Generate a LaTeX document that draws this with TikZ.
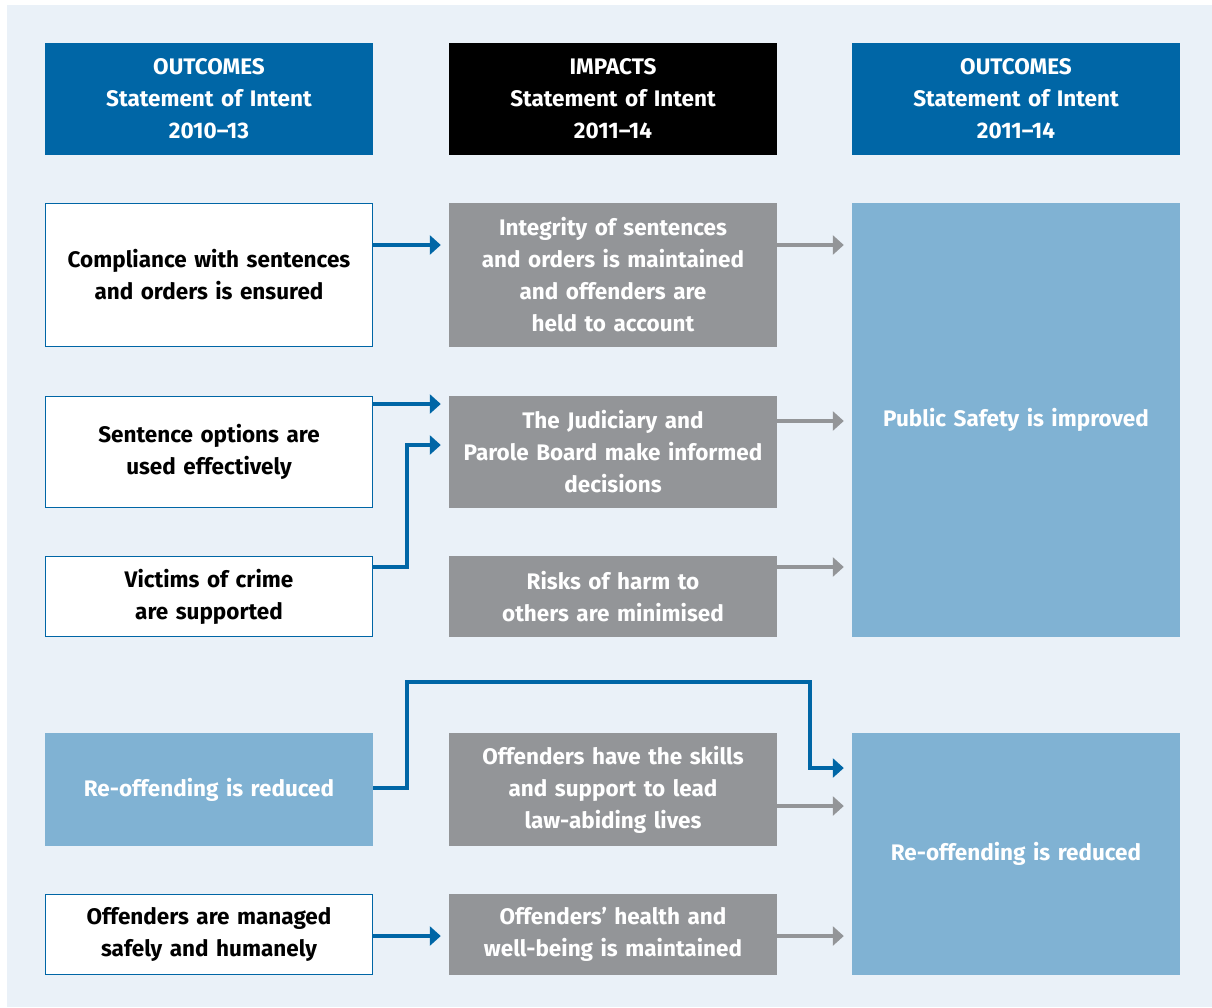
\documentclass[tikz,border=0pt]{standalone}
\usepackage{fontspec}
\setmainfont{Fira Sans}
\usetikzlibrary{arrows.meta,calc}
\definecolor{panel}{HTML}{EAF1F8}
\definecolor{dblue}{HTML}{0066A6}
\definecolor{lblue}{HTML}{80B2D3}
\definecolor{gbox}{HTML}{939598}
\tikzset{
  box/.style={minimum width=328pt, text width=326pt, align=center, inner sep=0pt,
    font=\fontsize{22.5}{32}\selectfont\bfseries},
  hdr/.style={box, text=white},
  wbox/.style={box, fill=white, draw=dblue, line width=1pt, text=black},
  gbx/.style={box, fill=gbox, text=white},
  bbx/.style={box, fill=lblue, text=white},
  barrow/.style={draw=dblue, line width=3.2pt, -{Triangle[length=11pt,width=19pt]}},
  garrow/.style={draw=gbox, line width=3.2pt, -{Triangle[length=11pt,width=19pt]}},
}
\begin{document}
\begin{tikzpicture}[x=1pt,y=-1pt]
\useasboundingbox (0,0) rectangle (1212,1007);
\fill[white] (0,0) rectangle (1212,1007);
\fill[panel] (7,5) rectangle (1212,1007);
% headers
\node[hdr, fill=dblue, minimum height=112pt] (h1) at (209,99) {OUTCOMES\\Statement of Intent\\2010--13};
\node[hdr, fill=black, minimum height=112pt] (h2) at (613,99) {IMPACTS\\Statement of Intent\\2011--14};
\node[hdr, fill=dblue, minimum height=112pt] (h3) at (1016,99) {OUTCOMES\\Statement of Intent\\2011--14};
% left column
\node[wbox, minimum width=327pt, minimum height=143pt] (l1) at (209,275) {Compliance with sentences\\and orders is ensured};
\node[wbox, minimum width=327pt, minimum height=111pt] (l2) at (209,452) {Sentence options are\\used effectively};
\node[wbox, minimum width=327pt, minimum height=80pt] (l3) at (209,596.5) {Victims of crime\\are supported};
\node[bbx, minimum height=113pt] (l4) at (209,789.5) {Re-offending is reduced};
\node[wbox, minimum width=327pt, minimum height=80pt] (l5) at (209,934.5) {Offenders are managed\\safely and humanely};
% middle column
\node[gbx, minimum height=144pt] (m1) at (613,275) {Integrity of sentences\\and orders is maintained\\and offenders are\\held to account};
\node[gbx, minimum height=112pt] (m2) at (613,452) {The Judiciary and\\Parole Board make informed\\decisions};
\node[gbx, minimum height=81pt] (m3) at (613,596.5) {Risks of harm to\\others are minimised};
\node[gbx, minimum height=113pt] (m4) at (613,789.5) {Offenders have the skills\\and support to lead\\law-abiding lives};
\node[gbx, minimum height=81pt] (m5) at (613,934.5) {Offenders' health and\\well-being is maintained};
% right column
\node[bbx, minimum height=434pt] (r1) at (1016,420) {Public Safety is improved};
\node[bbx, minimum height=242pt] (r2) at (1016,854) {Re-offending is reduced};
% blue arrows
\draw[barrow] (l1.east |- 0,245) -- ([xshift=-8pt]m1.west |- 0,245);
\draw[barrow] (l2.east |- 0,404) -- ([xshift=-8pt]m2.west |- 0,404);
\draw[barrow] (l3.east |- 0,567) -- (407,567) -- (407,445) -- ([xshift=-8pt]m2.west |- 0,445);
\draw[barrow] (l4.east |- 0,788) -- (407,788) -- (407,682) -- (810,682) -- (810,768) -- ([xshift=-8pt]r2.west |- 0,768);
\draw[barrow] (l5.east |- 0,936) -- ([xshift=-8pt]m5.west |- 0,936);
% gray arrows
\draw[garrow] (m1.east |- 0,245) -- ([xshift=-8pt]r1.west |- 0,245);
\draw[garrow] (m2.east |- 0,421) -- ([xshift=-8pt]r1.west |- 0,421);
\draw[garrow] (m3.east |- 0,567) -- ([xshift=-8pt]r1.west |- 0,567);
\draw[garrow] (m4.east |- 0,806) -- ([xshift=-8pt]r2.west |- 0,806);
\draw[garrow] (m5.east |- 0,936) -- ([xshift=-8pt]r2.west |- 0,936);
\end{tikzpicture}
\end{document}
